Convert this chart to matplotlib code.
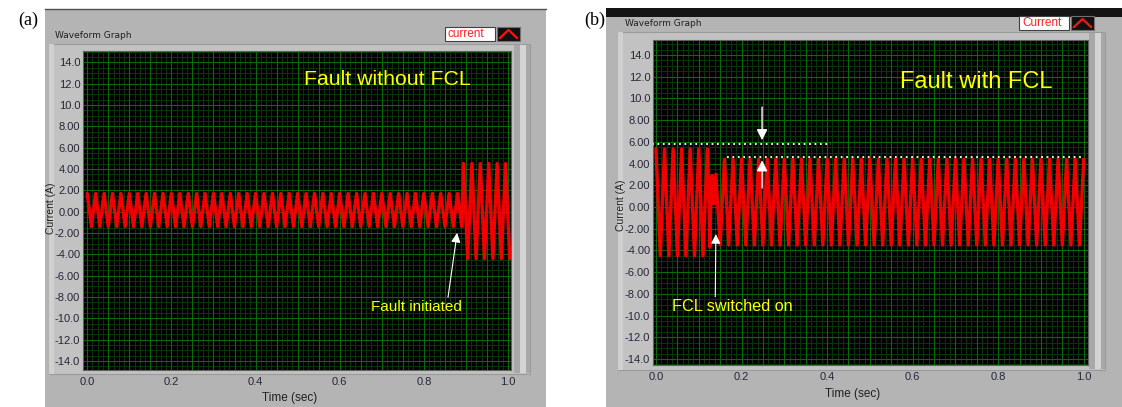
import numpy as np
import matplotlib
matplotlib.use('Agg')
import matplotlib.pyplot as plt
from matplotlib.patches import Rectangle
from matplotlib.lines import Line2D

plt.rcParams['font.family'] = ['Liberation Sans', 'DejaVu Sans']

W, H = 1122, 407

# --- data ---
freq_hz = 50.0
# panel (a): steady segments (start, end, peak, trough)
a_seg_start = [0.0, 0.894]
a_seg_end = [0.89, 1.005]
a_seg_high = [1.7, 4.5]
a_seg_low = [-1.4, -4.4]

# panel (b): before and after the FCL switches on
b_seg_start = [0.0, 0.16]
b_seg_end = [0.12, 1.0]
b_seg_high = [5.35, 4.4]
b_seg_low = [-4.5, -3.5]
# transient while FCL switches on
b_trans_t = [0.124, 0.126, 0.128, 0.131, 0.135, 0.140, 0.150]
b_trans_v = [0.5, -3.7, 0.6, 2.9, 0.3, 3.0, -3.5]
# dotted peak markers
b_dot_before = 5.8
b_dot_after = 4.6

y_ticks = [14, 12, 10, 8, 6, 4, 2, 0, -2, -4, -6, -8, -10, -12, -14]
y_tick_labels = ['14.0', '12.0', '10.0', '8.00', '6.00', '4.00', '2.00', '0.00',
                 '-2.00', '-4.00', '-6.00', '-8.00', '-10.0', '-12.0', '-14.0']
x_ticks = [0.0, 0.2, 0.4, 0.6, 0.8, 1.0]
x_tick_labels = ['0.0', '0.2', '0.4', '0.6', '0.8', '1.0']


def seg_vertices(t0, t1, hi, lo, start_high=True):
    """vertices of the waveform: a peak or trough every half period"""
    half = 0.5 / freq_hz
    ts, vs = [], []
    k = 0
    t = t0
    while t <= t1 + 1e-9:
        ts.append(t)
        vs.append(hi if (k % 2 == 0) == start_high else lo)
        k += 1
        t = t0 + k * half
    return ts, vs


def fx(px):
    return px / W


def fy(py):
    return 1 - py / H


def rect(fig, x0, y0, x1, y1, **kw):
    fig.patches.append(Rectangle((fx(x0), fy(y1)), fx(x1) - fx(x0), fy(y0) - fy(y1),
                                 transform=fig.transFigure, figure=fig, **kw))


def panel_frame(fig, outer, inner, title_xy, legend_xy, legend_text, top_bar=False):
    x0, y0, x1, y1 = outer
    rect(fig, x0, y0, x1, y1, facecolor='#b4b4b4', edgecolor='none', zorder=0)
    if top_bar:
        rect(fig, x0, y0, x1, y0 + 9, facecolor='#141414', edgecolor='none', zorder=1)
    else:
        fig.lines.append(Line2D([fx(x0), fx(x1)], [fy(y0), fy(y0)], transform=fig.transFigure,
                                color='#505050', lw=1))
    ix0, iy0, ix1, iy1 = inner
    rect(fig, ix0, iy0, ix1, iy1, facecolor='#c2c2c2', edgecolor='#9a9a9a', lw=0.8, zorder=1)
    rect(fig, ix0, iy0, ix0 + 5, iy1, facecolor='#d0d0d0', edgecolor='none', zorder=1)
    rect(fig, ix1 - 16, iy0 + 1, ix1, iy1 - 1, facecolor='#a8a8a8', edgecolor='none', zorder=1)
    rect(fig, ix1 - 10, iy0 + 1, ix1 - 4, iy1 - 1, facecolor='#d4d4d4', edgecolor='none', zorder=1)
    fig.text(fx(title_xy[0]), fy(title_xy[1]), 'Waveform Graph', fontsize=6.5,
             color='#202020', va='center', ha='left', family=['DejaVu Sans'])
    lx, ly = legend_xy
    rect(fig, lx, ly, lx + 50, ly + 14, facecolor='white', edgecolor='#404040', lw=0.8, zorder=2)
    fig.text(fx(lx + 3), fy(ly + 7), legend_text, fontsize=8.5, color='#ff2020',
             va='center', ha='left', zorder=3)
    rect(fig, lx + 52, ly, lx + 75, ly + 14, facecolor='#101010', edgecolor='#707070', lw=0.8, zorder=2)
    fig.lines.append(Line2D([fx(lx + 55), fx(lx + 63.5), fx(lx + 72)],
                            [fy(ly + 11), fy(ly + 3), fy(ly + 11)],
                            transform=fig.transFigure, color='#ff1010', lw=1.6, zorder=4))


def style_axes(ax, xlim, ylim):
    ax.set_zorder(5)
    ax.set_facecolor('black')
    ax.set_xlim(*xlim)
    ax.set_ylim(*ylim)
    for t in np.arange(0, 1.0001, 0.0125):
        ax.axvline(t, color='#0a360a', lw=0.7, zorder=1)
    for t in np.arange(-15, 15.01, 0.5):
        ax.axhline(t, color='#0a360a', lw=0.7, zorder=1)
    for t in np.arange(0, 1.0001, 0.05):
        ax.axvline(t, color='#086a08', lw=0.8, zorder=1)
    for t in y_ticks:
        ax.axhline(t, color='#086a08', lw=0.8, zorder=1)
    ax.set_yticks(y_ticks)
    ax.set_yticklabels(y_tick_labels)
    ax.set_xticks(x_ticks)
    ax.set_xticklabels(x_tick_labels)
    ax.tick_params(length=0, labelsize=8, colors='#262638', pad=2)
    ax.tick_params(axis='x', pad=5)
    for s in ax.spines.values():
        s.set_color('#606060')
        s.set_linewidth(0.8)


def wave(ax, ts, vs):
    ax.plot(ts, vs, color='#f00000', lw=2.4, zorder=3,
            solid_joinstyle='round', solid_capstyle='round')


fig = plt.figure(figsize=(W / 100, H / 100), dpi=100)
fig.patch.set_facecolor('white')

# ---------------- panel (a) ----------------
panel_frame(fig, (45, 9, 546, 407), (49, 44, 530, 374), (55, 36), (445, 27), 'current')
ax_a = fig.add_axes([fx(83), fy(370), fx(511) - fx(83), fy(51) - fy(370)])
style_axes(ax_a, (-0.01, 1.007), (-14.85, 15.05))
ta, va = [], []
for t0, t1, hi, lo in zip(a_seg_start, a_seg_end, a_seg_high, a_seg_low):
    ts, vs = seg_vertices(t0, t1, hi, lo)
    ta += ts
    va += vs
wave(ax_a, ta, va)
ax_a.text(0.515, 12.4, 'Fault without FCL', color='#ffff00', fontsize=15.3, va='center', zorder=5)
ax_a.annotate('Fault initiated', xy=(0.879, -2.0), xytext=(0.675, -8.95),
              color='#ffff00', fontsize=11, va='center', zorder=5,
              arrowprops=dict(arrowstyle='-|>', color='white', lw=0.8,
                              shrinkA=0, shrinkB=0, mutation_scale=14,
                              relpos=(0.84, 1.0)))
fig.text(fx(51.5), fy(208), 'Current (A)', fontsize=7.5, color='#202020', rotation=90,
         ha='center', va='center')
fig.text(fx(290), fy(398), 'Time (sec)', fontsize=8.5, color='#202020', ha='center', va='center')
fig.text(fx(18), fy(20), '(a)', fontsize=13, family=['Liberation Serif'], va='center')

# ---------------- panel (b) ----------------
panel_frame(fig, (606, 8, 1122, 407), (618, 32, 1105, 370), (625, 24), (1019, 16), 'Current',
            top_bar=True)
ax_b = fig.add_axes([fx(653), fy(365), fx(1088) - fx(653), fy(40) - fy(365)])
style_axes(ax_b, (-0.007, 1.01), (-14.55, 15.38))
tb, vb = seg_vertices(b_seg_start[0], b_seg_end[0], b_seg_high[0], b_seg_low[0])
tb += b_trans_t
vb += b_trans_v
ts, vs = seg_vertices(b_seg_start[1], b_seg_end[1], b_seg_high[1], b_seg_low[1])
tb += ts
vb += vs
wave(ax_b, tb, vb)
ax_b.text(0.571, 11.5, 'Fault with FCL', color='#ffff00', fontsize=17, va='center', zorder=5)
ax_b.plot([-0.01, 0.41], [b_dot_before, b_dot_before], color='white', lw=1.3,
          ls=(0, (1, 2)), zorder=4)
ax_b.plot([0.166, 1.0], [b_dot_after, b_dot_after], color='white', lw=1.3,
          ls=(0, (1, 2)), zorder=4)
ax_b.annotate('', xy=(0.248, b_dot_before + 0.35), xytext=(0.248, 9.2),
              arrowprops=dict(arrowstyle='-|>', color='white', lw=1.0, mutation_scale=16,
                              shrinkA=0, shrinkB=0), zorder=5)
ax_b.annotate('', xy=(0.248, b_dot_after - 0.3), xytext=(0.248, 1.75),
              arrowprops=dict(arrowstyle='-|>', color='white', lw=1.0, mutation_scale=16,
                              shrinkA=0, shrinkB=0), zorder=5)
ax_b.annotate('FCL switched on', xy=(0.14, -2.5), xytext=(0.037, -9.2),
              color='#ffff00', fontsize=11.7, va='center', zorder=5,
              arrowprops=dict(arrowstyle='-|>', color='white', lw=0.8, mutation_scale=14,
                              shrinkA=0, shrinkB=0, relpos=(0.36, 1.0)))
fig.text(fx(621), fy(205), 'Current (A)', fontsize=7.5, color='#202020', rotation=90,
         ha='center', va='center')
fig.text(fx(853), fy(394), 'Time (sec)', fontsize=8.5, color='#202020', ha='center', va='center')
fig.text(fx(584), fy(20), '(b)', fontsize=13, family=['Liberation Serif'], va='center')

fig.savefig('out.png', dpi=100, facecolor='white')
